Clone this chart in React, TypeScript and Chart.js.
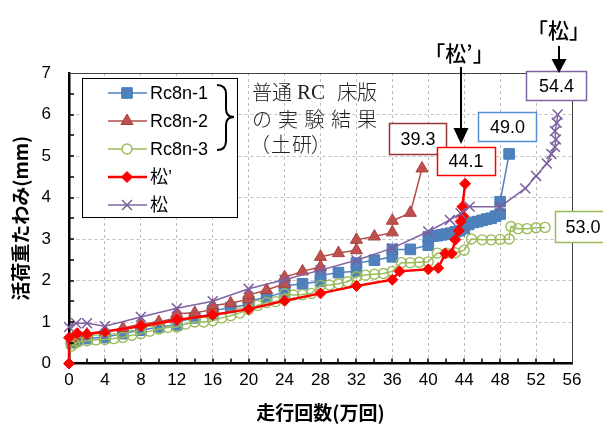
import React, { useEffect, useRef } from 'react';
import { Chart, registerables } from 'chart.js';
Chart.register(...registerables);

// ---- data (x: 走行回数[万回], y: 活荷重たわみ[mm]) ----
const rc1X = [0.3, 0.6, 1, 2, 4, 6, 8, 10, 12, 12, 14, 16, 16, 18, 20, 20, 22, 24, 24, 26, 28, 28, 30, 32, 32, 34, 36, 36, 38, 40, 40, 40.5, 41, 41.5, 42, 42.5, 43, 43.5, 44, 44.5, 45, 45.5, 46, 46.5, 47, 47.5, 48, 48, 49];
const rc1Y = [0.5, 0.55, 0.58, 0.6, 0.63, 0.72, 0.8, 0.88, 0.93, 1.0, 1.1, 1.2, 1.27, 1.35, 1.42, 1.5, 1.6, 1.72, 1.87, 1.92, 1.98, 2.12, 2.19, 2.22, 2.42, 2.49, 2.57, 2.75, 2.75, 2.85, 3.05, 3.07, 3.08, 3.1, 3.12, 3.14, 3.17, 3.2, 3.25, 3.35, 3.4, 3.42, 3.45, 3.48, 3.5, 3.55, 3.6, 3.9, 5.05];

const rc2X = [0.3, 0.6, 1, 2, 4, 6, 8, 10, 12, 12, 14, 16, 16, 18, 20, 20, 22, 24, 24, 26, 28, 28, 30, 32, 32, 34, 36, 36, 38, 39.3];
const rc2Y = [0.55, 0.62, 0.68, 0.7, 0.75, 0.85, 0.95, 1.0, 1.1, 1.2, 1.22, 1.3, 1.4, 1.45, 1.55, 1.65, 1.77, 1.92, 2.08, 2.22, 2.33, 2.57, 2.66, 2.73, 2.98, 3.06, 3.16, 3.44, 3.63, 4.7];

const rc3X = [0.3, 0.6, 1, 2, 3, 4, 5, 6, 7, 8, 9, 10, 11, 12, 13, 14, 15, 16, 17, 18, 19, 20, 21, 22, 23, 24, 24, 25, 26, 27, 28, 29, 30, 31, 32, 33, 34, 35, 36, 37, 38, 39, 40, 41, 42, 43, 44, 44.8, 46, 47, 48, 49, 49.2, 50, 51, 52, 53];
const rc3Y = [0.42, 0.48, 0.52, 0.55, 0.57, 0.58, 0.6, 0.63, 0.68, 0.72, 0.78, 0.83, 0.87, 0.88, 0.95, 1.0, 1.0, 1.03, 1.1, 1.15, 1.22, 1.3, 1.4, 1.47, 1.49, 1.55, 1.68, 1.65, 1.66, 1.69, 1.88, 1.89, 1.92, 1.97, 2.09, 2.13, 2.15, 2.17, 2.22, 2.43, 2.43, 2.44, 2.45, 2.66, 2.66, 2.67, 2.73, 3.0, 2.98, 2.98, 2.99, 3.0, 3.3, 3.25, 3.25, 3.27, 3.28];

const matsuPX = [0, 0, 0.9, 2, 4, 8, 12, 16, 20, 24, 28, 32, 36, 36.8, 40, 41.1, 41.9, 42.6, 43, 43.4, 43.6, 43.9, 43.8, 44.1];
const matsuPY = [0, 0.62, 0.73, 0.71, 0.77, 0.9, 1.05, 1.17, 1.31, 1.51, 1.69, 1.87, 2.02, 2.22, 2.27, 2.3, 2.65, 2.65, 2.98, 3.2, 3.42, 3.55, 3.78, 4.33];

const matsuX = [0, 0.8, 2, 4, 8, 12, 16, 20, 24, 28, 32, 36, 40, 42.4, 43.6, 44.6, 48, 50.8, 52, 53.2, 53.7, 54.1, 54.2, 54.1, 54.3, 54.4];
const matsuY = [0.88, 0.97, 0.97, 0.9, 1.12, 1.33, 1.5, 1.8, 2.02, 2.25, 2.49, 2.78, 3.18, 3.46, 3.62, 3.78, 3.78, 4.22, 4.52, 4.82, 5.05, 5.22, 5.4, 5.6, 5.8, 6.0];

const seriesNames = ['Rc8n-1', 'Rc8n-2', 'Rc8n-3', '松’', '松'];
const endLabels = ['39.3', '44.1', '49.0', '54.4', '53.0'];
const noteLines = ['普通 RC 床版', 'の 実 験 結 果', '（土研）'];
const arrowTexts = ['「松’」', '「松」'];
const xTitle = '走行回数(万回)';
const yTitle = '活荷重たわみ(mm)';
const xMax = 56;
const yMax = 7;

const SANS = '"Liberation Sans", "Noto Sans CJK JP", sans-serif';
const JP = '"Noto Sans CJK JP", sans-serif';

const pts = (xs: number[], ys: number[]) => xs.map((x, i) => ({ x, y: ys[i] }));

const styles = [
  { line: '#4F81BD', fill: '#4F81BD', stroke: '#4A7EBB', kind: 'rect', r: 7.5, lw: 1.5, pbw: 1 },
  { line: '#B54E4B', fill: '#C0504D', stroke: '#A8433F', kind: 'triangle', r: 7, lw: 1.5, pbw: 1 },
  { line: '#9BBB59', fill: 'rgba(255,255,255,0)', stroke: '#9BBB59', kind: 'circle', r: 5, lw: 1.5, pbw: 1.4 },
  { line: '#FF0000', fill: '#FF0000', stroke: '#FF0000', kind: 'rectRot', r: 5.5, lw: 2.5, pbw: 1 },
  { line: '#8064A2', fill: '#8064A2', stroke: '#7B5E9E', kind: 'crossRot', r: 7, lw: 1.5, pbw: 1.5 },
];

function drawMarker(ctx: CanvasRenderingContext2D, kind: string, x: number, y: number, r: number, fill: string, stroke: string, bw: number) {
  ctx.save();
  ctx.fillStyle = fill;
  ctx.strokeStyle = stroke;
  ctx.lineWidth = bw;
  ctx.beginPath();
  if (kind === 'rect') {
    const s = r * Math.SQRT1_2;
    ctx.rect(x - s, y - s, 2 * s, 2 * s);
    ctx.fill(); ctx.stroke();
  } else if (kind === 'triangle') {
    const a = (2 * Math.PI) / 3;
    ctx.moveTo(x, y - r);
    ctx.lineTo(x + Math.sin(a) * r, y - Math.cos(a) * r);
    ctx.lineTo(x + Math.sin(2 * a) * r, y - Math.cos(2 * a) * r);
    ctx.closePath();
    ctx.fill(); ctx.stroke();
  } else if (kind === 'circle') {
    ctx.arc(x, y, r, 0, Math.PI * 2);
    ctx.fillStyle = '#fff';
    ctx.fill(); ctx.stroke();
  } else if (kind === 'rectRot') {
    ctx.moveTo(x, y - r); ctx.lineTo(x + r, y); ctx.lineTo(x, y + r); ctx.lineTo(x - r, y); ctx.closePath();
    ctx.fill(); ctx.stroke();
  } else if (kind === 'crossRot') {
    const s = r * Math.SQRT1_2;
    ctx.moveTo(x - s, y - s); ctx.lineTo(x + s, y + s);
    ctx.moveTo(x - s, y + s); ctx.lineTo(x + s, y - s);
    ctx.stroke();
  }
  ctx.restore();
}

function arrow(ctx: CanvasRenderingContext2D, x: number, y0: number, y1: number, head: number) {
  ctx.save();
  ctx.strokeStyle = '#000';
  ctx.fillStyle = '#000';
  ctx.lineWidth = 2;
  ctx.beginPath();
  ctx.moveTo(x, y0);
  ctx.lineTo(x, y1 - head + 1);
  ctx.stroke();
  ctx.beginPath();
  ctx.moveTo(x - 7.5, y1 - head);
  ctx.lineTo(x + 7.5, y1 - head);
  ctx.lineTo(x, y1);
  ctx.closePath();
  ctx.fill();
  ctx.restore();
}

const overlay = {
  id: 'overlay',
  afterDraw(chart: any) {
    const { ctx, chartArea: a, scales } = chart;
    const xs = scales.x;
    const ys = scales.y;
    ctx.save();
    // thin top/right frame
    ctx.strokeStyle = '#404040';
    ctx.lineWidth = 1;
    ctx.beginPath();
    ctx.moveTo(a.left, Math.round(a.top) + 0.5);
    ctx.lineTo(Math.round(a.right) + 0.5, Math.round(a.top) + 0.5);
    ctx.lineTo(Math.round(a.right) + 0.5, a.bottom);
    ctx.stroke();
    // inner minor ticks
    ctx.strokeStyle = '#000';
    ctx.lineWidth = 1.5;
    ctx.beginPath();
    for (let v = 2; v < xMax; v += 2) {
      const px = Math.round(xs.getPixelForValue(v));
      ctx.moveTo(px, a.bottom);
      ctx.lineTo(px, a.bottom - 5);
    }
    for (let v = 0.5; v < yMax; v += 0.5) {
      const py = Math.round(ys.getPixelForValue(v));
      ctx.moveTo(a.left, py);
      ctx.lineTo(a.left + 5, py);
    }
    ctx.stroke();

    // legend
    ctx.fillStyle = '#fff';
    ctx.fillRect(82, 78, 155, 139);
    ctx.strokeStyle = '#000';
    ctx.lineWidth = 1;
    ctx.strokeRect(82.5, 78.5, 155, 139);
    seriesNames.forEach((name, i) => {
      const st = styles[i];
      const yy = 93 + i * 28;
      ctx.strokeStyle = st.line;
      ctx.lineWidth = st.lw;
      ctx.beginPath();
      ctx.moveTo(108, yy);
      ctx.lineTo(147, yy);
      ctx.stroke();
      drawMarker(ctx, st.kind, 127, yy, st.r, st.fill, st.stroke, st.pbw);
      ctx.fillStyle = '#000';
      ctx.font = '18px ' + SANS;
      ctx.textAlign = 'left';
      ctx.textBaseline = 'middle';
      ctx.fillText(name, 150, yy + 1);
    });
    // brace
    ctx.strokeStyle = '#000';
    ctx.lineWidth = 2;
    ctx.beginPath();
    ctx.moveTo(217, 85);
    ctx.quadraticCurveTo(226, 85, 226, 94);
    ctx.lineTo(226, 109);
    ctx.quadraticCurveTo(226, 117, 234, 117);
    ctx.quadraticCurveTo(226, 117, 226, 125);
    ctx.lineTo(226, 141);
    ctx.quadraticCurveTo(226, 150, 217, 150);
    ctx.stroke();

    // note text
    ctx.fillStyle = '#222';
    ctx.textBaseline = 'middle';
    ctx.textAlign = 'left';
    const l1 = noteLines[0].split(' ');
    ctx.font = '300 20px ' + JP;
    ctx.fillText(l1[0], 252, 92);
    ctx.font = '21px "Liberation Serif", serif';
    ctx.fillText(l1[1], 297, 93);
    ctx.font = '300 20px ' + JP;
    ctx.fillText(l1[2], 337, 92);
    const l2 = noteLines[1].split(' ');
    const l2x = [252, 278, 304.5, 331, 357];
    l2.forEach((c, i) => ctx.fillText(c, l2x[i], 119));
    const l3 = Array.from(noteLines[2]);
    const l3x = [250, 271, 292, 311];
    l3.forEach((c, i) => ctx.fillText(c, l3x[i], 144));

    // value boxes
    const boxes = [
      { x: 389.5, y: 123.5, w: 57, h: 31, c: '#953735' },
      { x: 437.5, y: 147.5, w: 58, h: 28, c: '#FF0000' },
      { x: 478.5, y: 112.5, w: 58, h: 29, c: '#558ED5' },
      { x: 526.5, y: 71.5, w: 60, h: 29, c: '#8064A2' },
      { x: 555.5, y: 211.5, w: 56, h: 31, c: '#9BBB59' },
    ];
    const tcx = [418, 466, 507.5, 556.5, 583];
    boxes.forEach((b, i) => {
      ctx.fillStyle = '#fff';
      ctx.fillRect(b.x, b.y, b.w, b.h);
      ctx.strokeStyle = b.c;
      ctx.lineWidth = 1.5;
      ctx.strokeRect(b.x, b.y, b.w, b.h);
      ctx.fillStyle = '#000';
      ctx.font = '18px ' + SANS;
      ctx.textAlign = 'center';
      ctx.textBaseline = 'middle';
      ctx.fillText(endLabels[i], tcx[i], b.y + b.h / 2 + 1);
    });

    // arrows & labels
    ctx.fillStyle = '#000';
    ctx.font = '500 21px ' + JP;
    ctx.textAlign = 'center';
    ctx.textBaseline = 'middle';
    ctx.fillText(arrowTexts[0], 459, 53);
    ctx.fillText(arrowTexts[1], 558.5, 30);
    arrow(ctx, 461, 67, 144, 16);
    arrow(ctx, 559, 46, 73, 14);
    ctx.restore();
  },
};

export default function App() {
  const ref = useRef<HTMLCanvasElement>(null);
  useEffect(() => {
    document.body.style.margin = '0';
    const series = [
      pts(rc1X, rc1Y),
      pts(rc2X, rc2Y),
      pts(rc3X, rc3Y),
      pts(matsuPX, matsuPY),
      pts(matsuX, matsuY),
    ];
    const datasets = series.map((d, i) => {
      const st = styles[i];
      return {
        label: seriesNames[i],
        data: d,
        showLine: true,
        borderColor: st.line,
        backgroundColor: st.fill,
        borderWidth: st.lw,
        pointStyle: st.kind,
        pointRadius: st.r,
        pointHoverRadius: st.r,
        pointBackgroundColor: st.fill,
        pointBorderColor: st.stroke,
        pointBorderWidth: st.pbw,
        tension: 0,
        clip: false as any,
        order: 5 - i,
      };
    });
    const gridColor = (c: any) =>
      c.tick && (c.tick.value === 0 || c.tick.value === c.scale.max) ? 'rgba(0,0,0,0)' : '#BFBFBF';
    const chart = new Chart(ref.current as HTMLCanvasElement, {
      type: 'scatter',
      data: { datasets } as any,
      options: {
        responsive: false,
        animation: false,
        devicePixelRatio: 1,
        layout: { padding: { top: 73, right: 31, left: 0, bottom: 0 } },
        plugins: { legend: { display: false }, tooltip: { enabled: false } },
        scales: {
          x: {
            type: 'linear',
            min: 0,
            max: xMax,
            ticks: { stepSize: 4, color: '#000', font: { family: SANS, size: 17 }, padding: 7, maxRotation: 0, autoSkip: false },
            grid: { color: gridColor, lineWidth: 1, drawTicks: false },
            border: { display: true, color: '#000', width: 2.5, dash: [3, 3] },
            title: { display: true, text: xTitle, color: '#000', font: { family: JP, size: 19, weight: 'bold' }, padding: { top: 0, bottom: 1 } },
            afterFit: (s: any) => { s.height = 61.5; },
          },
          y: {
            type: 'linear',
            min: 0,
            max: yMax,
            ticks: { stepSize: 1, color: '#000', font: { family: SANS, size: 17 }, padding: 18 },
            grid: { color: gridColor, lineWidth: 1, drawTicks: false },
            border: { display: true, color: '#000', width: 2.5, dash: [3, 3] },
            title: { display: true, text: yTitle, color: '#000', font: { family: JP, size: 19, weight: 'bold' }, padding: { top: 9, bottom: 0 } },
            afterFit: (s: any) => { s.width = 69; },
          },
        },
      } as any,
      plugins: [overlay],
    });
    return () => chart.destroy();
  }, []);
  return <canvas ref={ref} width={603} height={425} style={{ display: 'block' }} />;
}
